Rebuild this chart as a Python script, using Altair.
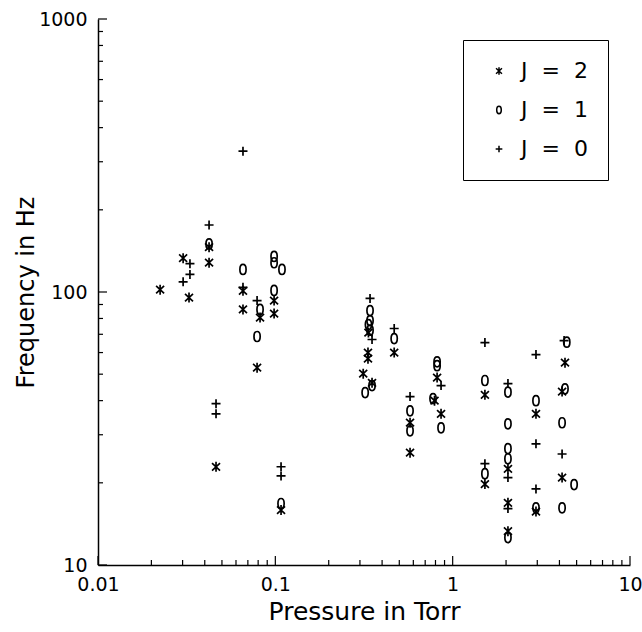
import altair as alt
import pandas as pd

# Frequency vs pressure for three rotational levels
J2_LABEL = "J\u00a0\u00a0=\u00a0\u00a02"
J1_LABEL = "J\u00a0\u00a0=\u00a0\u00a01"
J0_LABEL = "J\u00a0\u00a0=\u00a0\u00a00"

j2_pressure = [0.0224, 0.0302, 0.0326, 0.0423, 0.0423, 0.0463, 0.0657, 0.0657, 0.082, 0.0789,
               0.0984, 0.0984, 0.1077, 0.335, 0.333, 0.333, 0.313, 0.351, 0.468, 0.575,
               0.575, 0.817, 0.79, 0.86, 1.52, 1.52, 2.05, 2.05, 2.05, 2.95,
               2.95, 4.3, 4.14, 4.14]
j2_freq = [102, 133, 95.4, 146, 128, 22.9, 101, 86.3, 80.6, 52.8,
           93, 83.4, 15.9, 71, 60, 57, 50.2, 46.5, 60, 33.2,
           25.8, 48.6, 40.0, 35.8, 42, 19.8, 22.5, 16.9, 13.3, 35.8,
           15.7, 55.1, 43.2, 20.9]

j1_pressure = [0.0423, 0.0657, 0.082, 0.0789, 0.0984, 0.0984, 0.109, 0.0984, 0.1077,
               0.342, 0.342, 0.342, 0.335, 0.321, 0.351, 0.468, 0.575, 0.575, 0.817,
               0.817, 0.775, 0.86, 1.52, 1.52, 2.05, 2.05, 2.05, 2.05, 2.05,
               2.95, 2.95, 4.3, 4.14, 4.84, 4.14, 4.4]
j1_freq = [150, 121, 86.3, 68.7, 135, 128, 121, 101.3, 16.8,
           85.5, 78.6, 72.5, 76, 42.8, 45.4, 67.5, 36.7, 31, 53.7,
           55.5, 40.7, 31.8, 47.4, 21.6, 43, 32.9, 26.7, 24.5, 12.6,
           40, 16.2, 44.2, 33.2, 19.7, 16.2, 65.5]

j0_pressure = [0.0330, 0.0330, 0.0302, 0.0423, 0.0657, 0.0657, 0.0789, 0.0463, 0.0463,
               0.1077, 0.1077, 0.342, 0.351, 0.468, 0.575, 0.86, 1.52, 1.52, 2.05,
               2.05, 2.05, 2.95, 2.95, 2.95, 4.14, 4.25]
j0_freq = [127, 116, 109, 176, 328, 104, 93, 39, 35.8,
           22.9, 21.2, 94.7, 67, 73.5, 41.4, 45.4, 65.3, 23.5, 46.2,
           20.9, 16.1, 59, 27.8, 19.0, 25.5, 66.4]

x_major = [0.01, 0.1, 1, 10]
y_major = [10, 100, 1000]
x_minor = [k * 10.0 ** e for e in (-2, -1, 0) for k in range(2, 10)]
y_minor = [k * 10.0 ** e for e in (1, 2) for k in range(2, 10)]

points = pd.concat([
    pd.DataFrame({"p": j2_pressure, "f": j2_freq, "J": J2_LABEL}),
    pd.DataFrame({"p": j1_pressure, "f": j1_freq, "J": J1_LABEL}),
    pd.DataFrame({"p": j0_pressure, "f": j0_freq, "J": J0_LABEL}),
])

W, H = 532, 546
FONT = "DejaVu Sans"

xscale = alt.Scale(type="log", domain=[0.01, 10], nice=False)
yscale = alt.Scale(type="log", domain=[10, 1000], nice=False)
x_axis = alt.Axis(values=x_major, format="~g", ticks=False, grid=False,
                  labelFlush=False, labelPadding=10, titlePadding=5, titleFontSize=25)
y_axis = alt.Axis(values=y_major, format="~g", ticks=False, grid=False,
                  labelFlush=False, labelPadding=11, titlePadding=0, titleFontSize=24)

asterisk = "M0,-1L0,1M-0.8,-0.75L0.8,0.75M-0.8,0.75L0.8,-0.75"
oval = ("M0,-1C0.5,-1 0.62,-0.55 0.62,0C0.62,0.55 0.5,1 0,1"
        "C-0.5,1 -0.62,0.55 -0.62,0C-0.62,-0.55 -0.5,-1 0,-1Z")
plus = "M-0.9,0L0.9,0M0,-0.9L0,0.9"

scatter = alt.Chart(points).mark_point(
    filled=False, color="black", strokeWidth=1.7, size=100, opacity=1
).encode(
    x=alt.X("p:Q", scale=xscale, title="Pressure in Torr", axis=x_axis),
    y=alt.Y("f:Q", scale=yscale, title="Frequency in Hz", axis=y_axis),
    shape=alt.Shape("J:N",
                    scale=alt.Scale(domain=[J2_LABEL, J1_LABEL, J0_LABEL],
                                    range=[asterisk, oval, plus]),
                    legend=alt.Legend(title=None, orient="none", legendX=365, legendY=21,
                                      strokeColor="black", padding=20,
                                      labelFontSize=22, labelFont=FONT,
                                      labelColor="black", symbolSize=55,
                                      symbolStrokeWidth=1.5, symbolStrokeColor="black",
                                      symbolOffset=5, labelOffset=11, rowPadding=17)),
)

def x_ticks(values, length):
    return alt.Chart(pd.DataFrame({"v": values})).mark_rule(
        color="black", strokeWidth=1.2
    ).encode(
        x=alt.X("v:Q", scale=xscale, title="Pressure in Torr", axis=x_axis),
        y=alt.value(H), y2=alt.value(H - length),
    )

def y_ticks(values, length):
    return alt.Chart(pd.DataFrame({"v": values})).mark_rule(
        color="black", strokeWidth=1.2
    ).encode(
        y=alt.Y("v:Q", scale=yscale, title="Frequency in Hz", axis=y_axis),
        x=alt.value(0), x2=alt.value(length),
    )

chart = alt.layer(
    scatter,
    x_ticks(x_major, 9), x_ticks(x_minor, 5),
    y_ticks(y_major, 9), y_ticks(y_minor, 5),
).properties(
    width=W, height=H,
    autosize=alt.AutoSizeParams(type="none"),
    padding={"left": 98, "top": 19, "right": 12, "bottom": 67},
).configure_view(
    strokeWidth=0
).configure_axis(
    domainColor="black", domainWidth=1.5,
    labelFont=FONT, labelFontSize=19, labelColor="black",
    titleFont=FONT, titleFontWeight="normal", titleColor="black",
)

chart.save("out.html", embed_options={"renderer": "svg", "actions": False})
